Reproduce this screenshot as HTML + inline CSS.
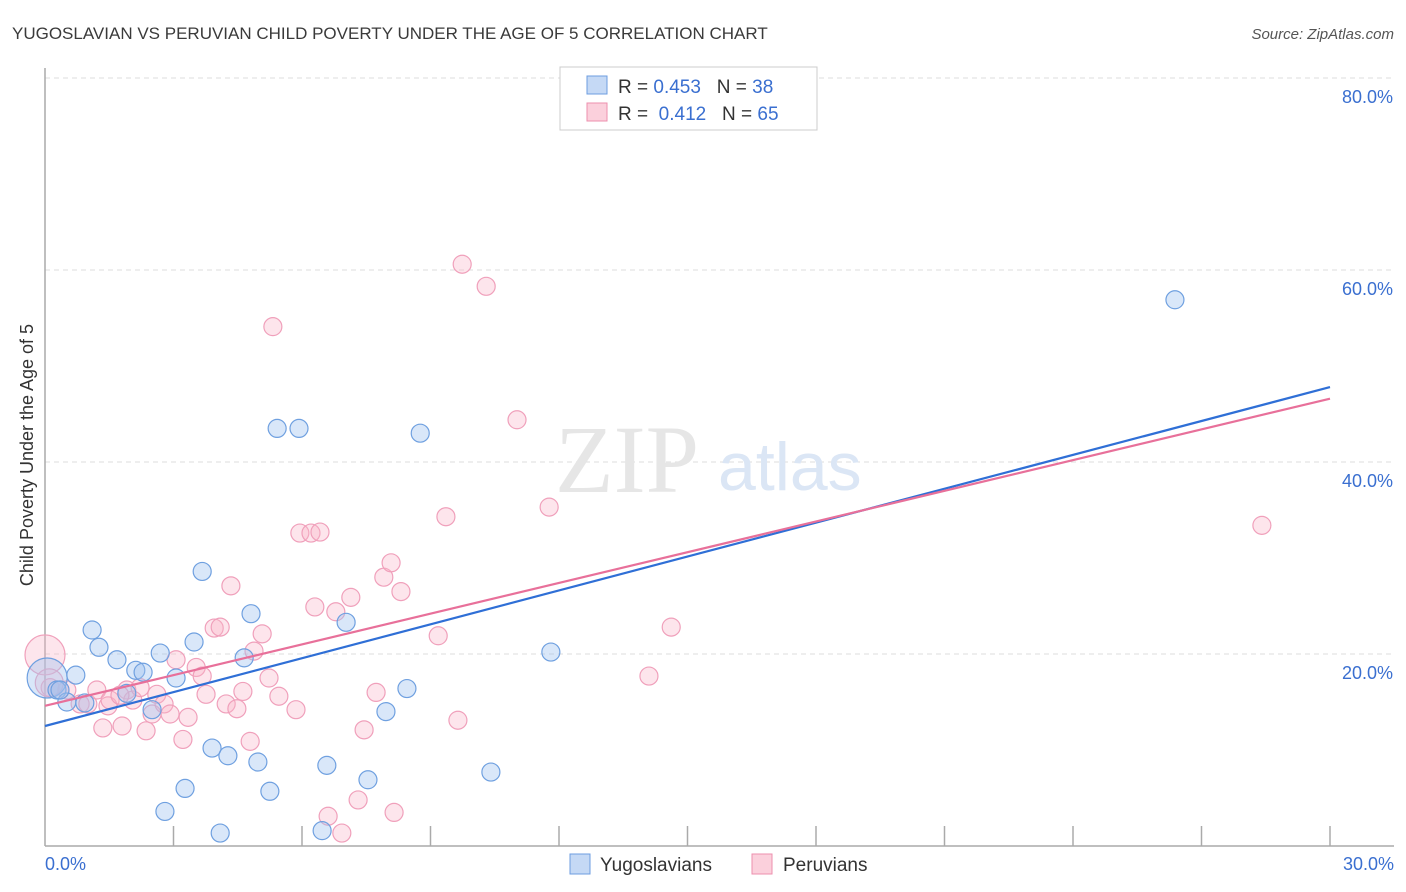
<!DOCTYPE html>
<html><head><meta charset="utf-8"><style>
body{margin:0;background:#fff;font-family:"Liberation Sans",sans-serif}
svg{display:block}
</style></head><body>
<svg id="c" width="1406" height="892">
<text x="12" y="39" font-size="17" fill="#3a3a3a">YUGOSLAVIAN VS PERUVIAN CHILD POVERTY UNDER THE AGE OF 5 CORRELATION CHART</text>
<text x="1394" y="39" font-size="15" fill="#555" font-style="italic" text-anchor="end">Source: ZipAtlas.com</text>
<g id="grid"></g>
<text x="555" y="492" font-size="96" fill="#e6e6e6" font-family="Liberation Serif">ZIP</text>
<text x="718" y="490" font-size="68" fill="#dbe6f5">atlas</text>
<g id="pts"></g>
<g id="lines"></g>
<text x="33" y="455" font-size="18" fill="#333" text-anchor="middle" transform="rotate(-90 33 455)">Child Poverty Under the Age of 5</text>
<text x="45" y="870" font-size="18" fill="#3a6fd0">0.0%</text>
<text x="1394" y="870" font-size="18" fill="#3a6fd0" text-anchor="end">30.0%</text>
<g>
<rect x="560" y="67" width="257" height="63" fill="#fff" stroke="#ccc"/>
<rect x="587" y="76" width="20" height="18" fill="#c5d9f5" stroke="#6d9de0"/>
<rect x="587" y="103" width="20" height="18" fill="#fbd0dc" stroke="#ec8fae"/>
<text x="618" y="93" font-size="19" fill="#333" xml:space="preserve">R = <tspan fill="#3a6fd0">0.453</tspan>   N = <tspan fill="#3a6fd0">38</tspan></text>
<text x="618" y="120" font-size="19" fill="#333" xml:space="preserve">R =  <tspan fill="#3a6fd0">0.412</tspan>   N = <tspan fill="#3a6fd0">65</tspan></text>
</g>
<g>
<rect x="570" y="854" width="20" height="20" fill="#c5d9f5" stroke="#6d9de0"/>
<text x="600" y="871" font-size="19" fill="#333">Yugoslavians</text>
<rect x="752" y="854" width="20" height="20" fill="#fbd0dc" stroke="#ec8fae"/>
<text x="783" y="871" font-size="19" fill="#333">Peruvians</text>
</g>
</svg>
<script>
const yTicks=[20,40,60,80];
const yTickLabels=["20.0%","40.0%","60.0%","80.0%"];
const xTicks=[3,6,9,12,15,18,21,24,27,30];
const blueX=[0.05,0.28,0.51,0.72,0.93,1.10,1.26,1.68,1.91,2.12,2.29,2.50,2.69,2.80,3.06,3.27,3.48,3.67,3.90,4.09,4.27,4.65,4.81,4.97,5.25,5.42,5.93,6.47,6.58,7.03,7.54,7.96,8.45,8.76,10.41,11.81,26.38,0.35];
const blueY=[17.5,16.25,15.0,17.8,14.9,22.5,20.7,19.4,15.9,18.3,18.1,14.2,20.1,3.6,17.5,6.0,21.25,28.6,10.2,1.35,9.4,19.6,24.2,8.75,5.7,43.5,43.5,1.6,8.4,23.3,6.9,14.0,16.4,43.0,7.7,20.2,56.9,16.25];
const pinkX=[0,0.12,0.35,0.51,0.82,1.00,1.21,1.35,1.47,1.80,1.91,2.05,2.22,2.36,2.50,2.61,2.78,2.92,3.06,3.22,3.34,3.53,3.67,3.76,3.95,4.09,4.23,4.34,4.48,4.62,4.79,4.88,5.07,5.23,5.32,5.46,5.86,5.95,6.21,6.30,6.42,6.61,6.79,6.93,7.14,7.31,7.45,7.73,7.91,8.08,8.15,8.31,9.18,9.36,9.64,9.74,10.30,11.02,11.77,14.10,14.62,28.41,1.52,1.75,0.1];
const pinkY=[19.9,16.5,16.25,16.25,14.8,14.8,16.25,12.3,14.6,12.5,16.25,15.2,16.5,12.0,13.75,15.8,14.8,13.75,19.4,11.1,13.4,18.6,17.7,15.8,22.7,22.8,14.8,27.1,14.3,16.1,10.9,20.3,22.1,17.5,54.1,15.6,14.2,32.6,32.6,24.9,32.7,3.1,24.4,1.35,25.9,4.8,12.1,16.0,28.0,29.5,3.5,26.5,21.9,34.3,13.1,60.6,58.3,44.4,35.3,17.7,22.8,33.4,15.2,15.7,17.0];
const blueLine=[12.5,47.8];
const pinkLine=[14.6,46.6];

const NS="http://www.w3.org/2000/svg";
function X(v){return 45+v*(1285/30);}
function Y(v){return 846-v*9.6;}
function mk(tag,attrs,parent){const e=document.createElementNS(NS,tag);for(const k in attrs)e.setAttribute(k,attrs[k]);parent.appendChild(e);return e;}
const grid=document.getElementById('grid');
yTicks.forEach((t,i)=>{
  const l=mk('line',{x1:45,x2:1394,y1:Y(t),y2:Y(t),stroke:'#dcdcdc','stroke-dasharray':'5,4'},grid);
  
  
  const tx=mk('text',{x:1393,y:Y(t)+25,'font-size':18,fill:'#3a6fd0','text-anchor':'end'},grid);
  tx.textContent=yTickLabels[i];
  
  
});
const ax=mk('line',{x1:45,x2:45,y1:68,y2:846,stroke:'#aaa','stroke-width':1.5},grid);


const bx=mk('line',{x1:45,x2:1394,y1:846,y2:846,stroke:'#aaa','stroke-width':1.5},grid);


xTicks.forEach(t=>{
  const l=mk('line',{x1:X(t),x2:X(t),y1:826,y2:846,stroke:'#aaa','stroke-width':1.5},grid);
  
  
});
const pts=document.getElementById('pts');
pinkX.forEach((v,i)=>{
  const c=mk('circle',{cx:X(v),cy:Y(pinkY[i]),r:i==0?20:(i==64?14:9),fill:'rgba(248,180,200,0.35)',stroke:'#f0a0bb','stroke-width':1.2},pts);
  
  
});
blueX.forEach((v,i)=>{
  const c=mk('circle',{cx:X(v),cy:Y(blueY[i]),r:i==0?20:9,fill:'rgba(160,195,240,0.4)',stroke:'#6fa0e0','stroke-width':1.2},pts);
  
  
});
const lines=document.getElementById('lines');
const bl=mk('line',{x1:X(0),y1:Y(blueLine[0]),x2:X(30),y2:Y(blueLine[1]),stroke:'#2f6fd6','stroke-width':2.2},lines);


const pl=mk('line',{x1:X(0),y1:Y(pinkLine[0]),x2:X(30),y2:Y(pinkLine[1]),stroke:'#e8709a','stroke-width':2.2},lines);


</script>
</body></html>
